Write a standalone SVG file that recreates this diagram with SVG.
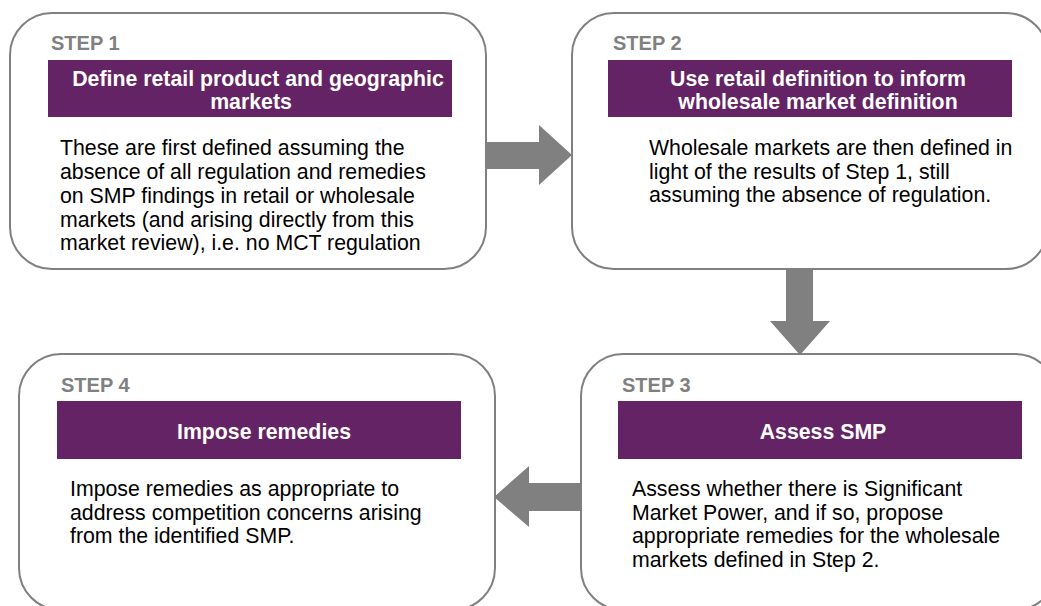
<svg xmlns="http://www.w3.org/2000/svg" width="1041" height="606" viewBox="0 0 1041 606">
<style>
.box{fill:#ffffff;stroke:#808080;stroke-width:2}
.banner{fill:#642364}
.step{font-family:"Liberation Sans",Arial,sans-serif;font-weight:bold;font-size:20px;fill:#808080}
.title{font-family:"Liberation Sans",Arial,sans-serif;font-weight:bold;font-size:21.3px;fill:#ffffff;text-anchor:middle}
.body{font-family:"Liberation Sans",Arial,sans-serif;font-size:21.3px;fill:#000000}
.arrow{fill:#808080}
</style>
<rect width="1041" height="606" fill="#ffffff"/>
<g id="step1">
<rect class="box" x="10" y="13" width="476" height="256" rx="42" ry="42"/>
<text class="step" x="51" y="50">STEP 1</text>
<rect class="banner" x="48" y="60" width="404" height="57"/>
<text class="title" x="258" y="86">Define retail product and geographic</text>
<text class="title" x="251" y="109">markets</text>
<text class="body" x="60" y="155">These are first defined assuming the</text>
<text class="body" x="60" y="179">absence of all regulation and remedies</text>
<text class="body" x="60" y="203">on SMP findings in retail or wholesale</text>
<text class="body" x="60" y="227">markets (and arising directly from this</text>
<text class="body" x="60" y="250">market review), i.e. no MCT regulation</text>
</g>
<g id="step2">
<rect class="box" x="572" y="13" width="476" height="256" rx="42" ry="42"/>
<text class="step" x="613" y="50">STEP 2</text>
<rect class="banner" x="608" y="60" width="404" height="57"/>
<text class="title" x="818" y="86">Use retail definition to inform</text>
<text class="title" x="818" y="109">wholesale market definition</text>
<text class="body" x="649" y="155">Wholesale markets are then defined in</text>
<text class="body" x="649" y="179">light of the results of Step 1, still</text>
<text class="body" x="649" y="202">assuming the absence of regulation.</text>
</g>
<g id="step3">
<rect class="box" x="581" y="354" width="476" height="256" rx="42" ry="42"/>
<text class="step" x="622" y="392">STEP 3</text>
<rect class="banner" x="618" y="401" width="404" height="58"/>
<text class="title" x="823" y="439">Assess SMP</text>
<text class="body" x="632" y="496">Assess whether there is Significant</text>
<text class="body" x="632" y="520">Market Power, and if so, propose</text>
<text class="body" x="632" y="543">appropriate remedies for the wholesale</text>
<text class="body" x="632" y="567">markets defined in Step 2.</text>
</g>
<g id="step4">
<rect class="box" x="19" y="354" width="476" height="256" rx="42" ry="42"/>
<text class="step" x="61" y="392">STEP 4</text>
<rect class="banner" x="57" y="401" width="404" height="58"/>
<text class="title" x="264" y="439">Impose remedies</text>
<text class="body" x="70" y="496">Impose remedies as appropriate to</text>
<text class="body" x="70" y="520">address competition concerns arising</text>
<text class="body" x="70" y="543">from the identified SMP.</text>
</g>
<g id="connectors">
<polygon class="arrow" points="487,142 539,142 539,125 572,155 539,185 539,169 487,169"/>
<polygon class="arrow" points="786,270 813,270 813,321 830,321 800,355 770,321 786,321"/>
<polygon class="arrow" points="580,483 529,483 529,466 494,497 529,527 529,511 580,511"/>
</g>
</svg>
